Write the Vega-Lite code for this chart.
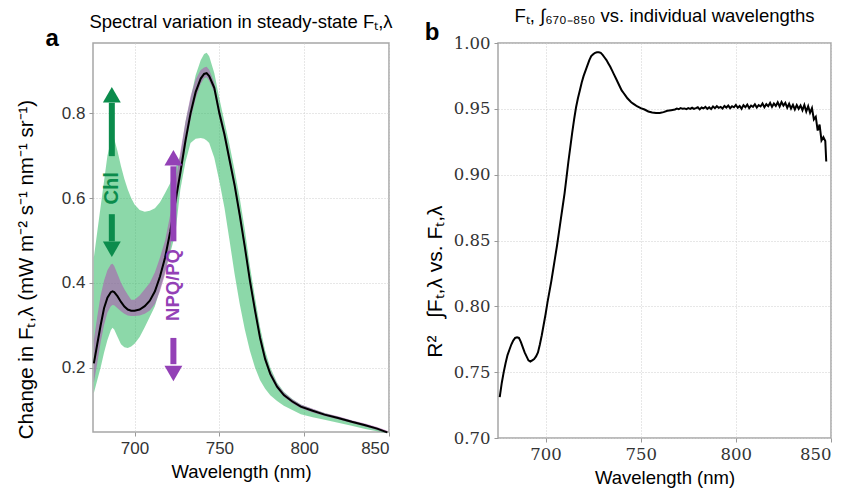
{
  "$schema": "https://vega.github.io/schema/vega-lite/v6.json",
  "background": "white",
  "padding": {"left": 15, "top": 6, "right": 5, "bottom": 5},
  "bounds": "flush",
  "spacing": 109,
  "config": {
    "view": {"stroke": "#a6a6a6", "strokeWidth": 1.5},
    "title": {"font": "Liberation Sans", "fontSize": 18.5, "fontWeight": "normal", "color": "#000", "offset": -4, "frame": "group"},
    "axis": {
      "grid": true, "gridColor": "#cfcfcf", "gridDash": [1, 2], "gridWidth": 1,
      "domain": false, "tickColor": "#999", "tickSize": 4, "tickWidth": 1,
      "labelColor": "#333", "titleColor": "#000", "titleFontWeight": "normal",
      "titleFont": "Liberation Sans", "labelFont": "Liberation Sans"
    }
  },
  "datasets": {
    "spec": [
      {"w": 676, "m": 0.21, "glo": 0.14, "ghi": 0.46, "plo": 0.165, "phi": 0.265},
      {"w": 678, "m": 0.255, "glo": 0.17, "ghi": 0.52, "plo": 0.21, "phi": 0.32},
      {"w": 680, "m": 0.30, "glo": 0.20, "ghi": 0.58, "plo": 0.26, "phi": 0.37},
      {"w": 682, "m": 0.34, "glo": 0.235, "ghi": 0.64, "plo": 0.30, "phi": 0.405},
      {"w": 684, "m": 0.365, "glo": 0.265, "ghi": 0.70, "plo": 0.33, "phi": 0.43},
      {"w": 686, "m": 0.378, "glo": 0.288, "ghi": 0.735, "plo": 0.345, "phi": 0.443},
      {"w": 687, "m": 0.38, "glo": 0.294, "ghi": 0.745, "plo": 0.348, "phi": 0.445},
      {"w": 688, "m": 0.378, "glo": 0.29, "ghi": 0.74, "plo": 0.347, "phi": 0.44},
      {"w": 690, "m": 0.368, "glo": 0.272, "ghi": 0.71, "plo": 0.34, "phi": 0.42},
      {"w": 692, "m": 0.355, "glo": 0.255, "ghi": 0.675, "plo": 0.333, "phi": 0.40},
      {"w": 694, "m": 0.344, "glo": 0.248, "ghi": 0.645, "plo": 0.327, "phi": 0.385},
      {"w": 696, "m": 0.337, "glo": 0.246, "ghi": 0.62, "plo": 0.323, "phi": 0.372},
      {"w": 698, "m": 0.334, "glo": 0.25, "ghi": 0.60, "plo": 0.322, "phi": 0.36},
      {"w": 700, "m": 0.334, "glo": 0.256, "ghi": 0.585, "plo": 0.322, "phi": 0.36},
      {"w": 703, "m": 0.337, "glo": 0.272, "ghi": 0.572, "plo": 0.323, "phi": 0.37},
      {"w": 706, "m": 0.345, "glo": 0.295, "ghi": 0.568, "plo": 0.327, "phi": 0.385},
      {"w": 709, "m": 0.358, "glo": 0.32, "ghi": 0.57, "plo": 0.335, "phi": 0.40},
      {"w": 712, "m": 0.38, "glo": 0.345, "ghi": 0.576, "plo": 0.35, "phi": 0.425},
      {"w": 715, "m": 0.415, "glo": 0.385, "ghi": 0.59, "plo": 0.38, "phi": 0.46},
      {"w": 718, "m": 0.46, "glo": 0.425, "ghi": 0.612, "plo": 0.42, "phi": 0.50},
      {"w": 721, "m": 0.52, "glo": 0.47, "ghi": 0.635, "plo": 0.48, "phi": 0.56},
      {"w": 724, "m": 0.59, "glo": 0.515, "ghi": 0.67, "plo": 0.57, "phi": 0.635},
      {"w": 727, "m": 0.66, "glo": 0.62, "ghi": 0.70, "plo": 0.645, "phi": 0.71},
      {"w": 730, "m": 0.735, "glo": 0.685, "ghi": 0.78, "plo": 0.72, "phi": 0.78},
      {"w": 733, "m": 0.80, "glo": 0.73, "ghi": 0.835, "plo": 0.785, "phi": 0.84},
      {"w": 736, "m": 0.85, "glo": 0.74, "ghi": 0.89, "plo": 0.835, "phi": 0.88},
      {"w": 739, "m": 0.882, "glo": 0.742, "ghi": 0.925, "plo": 0.87, "phi": 0.902},
      {"w": 741, "m": 0.893, "glo": 0.74, "ghi": 0.94, "plo": 0.883, "phi": 0.908},
      {"w": 742.5, "m": 0.895, "glo": 0.736, "ghi": 0.943, "plo": 0.885, "phi": 0.91},
      {"w": 744, "m": 0.888, "glo": 0.73, "ghi": 0.935, "plo": 0.877, "phi": 0.903},
      {"w": 747, "m": 0.86, "glo": 0.695, "ghi": 0.895, "plo": 0.85, "phi": 0.872},
      {"w": 750, "m": 0.80, "glo": 0.64, "ghi": 0.835, "plo": 0.79, "phi": 0.812},
      {"w": 753, "m": 0.75, "glo": 0.577, "ghi": 0.78, "plo": 0.74, "phi": 0.762},
      {"w": 756, "m": 0.69, "glo": 0.50, "ghi": 0.725, "plo": 0.68, "phi": 0.702},
      {"w": 759, "m": 0.63, "glo": 0.42, "ghi": 0.665, "plo": 0.62, "phi": 0.642},
      {"w": 762, "m": 0.56, "glo": 0.35, "ghi": 0.60, "plo": 0.55, "phi": 0.572},
      {"w": 765, "m": 0.485, "glo": 0.29, "ghi": 0.525, "plo": 0.475, "phi": 0.497},
      {"w": 768, "m": 0.405, "glo": 0.24, "ghi": 0.44, "plo": 0.395, "phi": 0.417},
      {"w": 771, "m": 0.335, "glo": 0.20, "ghi": 0.365, "plo": 0.326, "phi": 0.347},
      {"w": 774, "m": 0.27, "glo": 0.17, "ghi": 0.295, "plo": 0.262, "phi": 0.281},
      {"w": 777, "m": 0.22, "glo": 0.15, "ghi": 0.24, "plo": 0.213, "phi": 0.23},
      {"w": 780, "m": 0.185, "glo": 0.135, "ghi": 0.20, "plo": 0.179, "phi": 0.193},
      {"w": 784, "m": 0.155, "glo": 0.121, "ghi": 0.165, "plo": 0.15, "phi": 0.162},
      {"w": 788, "m": 0.135, "glo": 0.11, "ghi": 0.143, "plo": 0.131, "phi": 0.141},
      {"w": 793, "m": 0.12, "glo": 0.10, "ghi": 0.126, "plo": 0.116, "phi": 0.125},
      {"w": 798, "m": 0.108, "glo": 0.09, "ghi": 0.113, "plo": 0.104, "phi": 0.113},
      {"w": 805, "m": 0.098, "glo": 0.083, "ghi": 0.102, "plo": 0.094, "phi": 0.103},
      {"w": 812, "m": 0.089, "glo": 0.077, "ghi": 0.093, "plo": 0.086, "phi": 0.093},
      {"w": 820, "m": 0.081, "glo": 0.07, "ghi": 0.084, "plo": 0.078, "phi": 0.085},
      {"w": 828, "m": 0.072, "glo": 0.063, "ghi": 0.075, "plo": 0.069, "phi": 0.076},
      {"w": 836, "m": 0.064, "glo": 0.055, "ghi": 0.066, "plo": 0.061, "phi": 0.068},
      {"w": 843, "m": 0.056, "glo": 0.05, "ghi": 0.058, "plo": 0.053, "phi": 0.06},
      {"w": 849, "m": 0.047, "glo": 0.045, "ghi": 0.048, "plo": 0.045, "phi": 0.051}
    ],
    "r2": [
      {"w": 675.9, "r": 0.731}, {"w": 677, "r": 0.742}, {"w": 678, "r": 0.750}, {"w": 679, "r": 0.757},
      {"w": 680, "r": 0.763}, {"w": 681, "r": 0.767}, {"w": 682, "r": 0.771}, {"w": 683, "r": 0.774},
      {"w": 684, "r": 0.776}, {"w": 685, "r": 0.7765}, {"w": 686, "r": 0.776}, {"w": 687, "r": 0.773},
      {"w": 688, "r": 0.769}, {"w": 689, "r": 0.765}, {"w": 690, "r": 0.762}, {"w": 691, "r": 0.759},
      {"w": 692, "r": 0.758}, {"w": 693, "r": 0.759}, {"w": 694, "r": 0.760}, {"w": 695, "r": 0.762},
      {"w": 696, "r": 0.765}, {"w": 697, "r": 0.771}, {"w": 698, "r": 0.778}, {"w": 699, "r": 0.786},
      {"w": 700, "r": 0.794}, {"w": 701, "r": 0.803}, {"w": 702, "r": 0.811}, {"w": 703, "r": 0.819},
      {"w": 704, "r": 0.828}, {"w": 705, "r": 0.837}, {"w": 706, "r": 0.846}, {"w": 707, "r": 0.856},
      {"w": 708, "r": 0.866}, {"w": 709, "r": 0.876}, {"w": 710, "r": 0.886}, {"w": 711, "r": 0.898},
      {"w": 712, "r": 0.910}, {"w": 713, "r": 0.921}, {"w": 714, "r": 0.932}, {"w": 715, "r": 0.942},
      {"w": 716, "r": 0.951}, {"w": 717, "r": 0.958}, {"w": 718, "r": 0.964}, {"w": 719, "r": 0.970},
      {"w": 720, "r": 0.975}, {"w": 721, "r": 0.979}, {"w": 722, "r": 0.983}, {"w": 723, "r": 0.987},
      {"w": 724, "r": 0.990}, {"w": 725, "r": 0.9915}, {"w": 726, "r": 0.9925}, {"w": 727, "r": 0.993},
      {"w": 728, "r": 0.993}, {"w": 729, "r": 0.9925}, {"w": 730, "r": 0.991}, {"w": 731, "r": 0.989},
      {"w": 732, "r": 0.987}, {"w": 733, "r": 0.9845}, {"w": 734, "r": 0.982}, {"w": 735, "r": 0.979},
      {"w": 736, "r": 0.976}, {"w": 737, "r": 0.973}, {"w": 738, "r": 0.970}, {"w": 739, "r": 0.967},
      {"w": 740, "r": 0.964}, {"w": 741, "r": 0.962}, {"w": 742, "r": 0.960}, {"w": 743, "r": 0.958},
      {"w": 744, "r": 0.9565}, {"w": 745, "r": 0.955}, {"w": 746, "r": 0.954}, {"w": 747, "r": 0.953},
      {"w": 748, "r": 0.952}, {"w": 750, "r": 0.9505}, {"w": 752, "r": 0.9495}, {"w": 754, "r": 0.948},
      {"w": 756, "r": 0.9472}, {"w": 758, "r": 0.9468}, {"w": 760, "r": 0.9468}, {"w": 762, "r": 0.9475},
      {"w": 764, "r": 0.9485}, {"w": 766, "r": 0.949}, {"w": 768, "r": 0.9495}, {"w": 769, "r": 0.9502},
      {"w": 770, "r": 0.9498}, {"w": 771, "r": 0.9505}, {"w": 772, "r": 0.9500}, {"w": 773, "r": 0.9503},
      {"w": 774, "r": 0.9497}, {"w": 775, "r": 0.9505}, {"w": 776, "r": 0.9500}, {"w": 777, "r": 0.9508},
      {"w": 778, "r": 0.9499}, {"w": 779, "r": 0.9505}, {"w": 780, "r": 0.9512}, {"w": 781, "r": 0.9496},
      {"w": 782, "r": 0.9510}, {"w": 783, "r": 0.9503}, {"w": 784, "r": 0.9515}, {"w": 785, "r": 0.9500},
      {"w": 786, "r": 0.9512}, {"w": 787, "r": 0.9498}, {"w": 788, "r": 0.9518}, {"w": 789, "r": 0.9505},
      {"w": 790, "r": 0.9520}, {"w": 791, "r": 0.9508}, {"w": 792, "r": 0.9515}, {"w": 793, "r": 0.9502},
      {"w": 794, "r": 0.9522}, {"w": 795, "r": 0.9510}, {"w": 796, "r": 0.9525}, {"w": 797, "r": 0.9505},
      {"w": 798, "r": 0.9520}, {"w": 799, "r": 0.9512}, {"w": 800, "r": 0.9530}, {"w": 801, "r": 0.9508},
      {"w": 802, "r": 0.9522}, {"w": 803, "r": 0.9500}, {"w": 804, "r": 0.9528}, {"w": 805, "r": 0.9512},
      {"w": 806, "r": 0.9532}, {"w": 807, "r": 0.9505}, {"w": 808, "r": 0.9525}, {"w": 809, "r": 0.9515},
      {"w": 810, "r": 0.9535}, {"w": 811, "r": 0.9510}, {"w": 812, "r": 0.9528}, {"w": 813, "r": 0.9518},
      {"w": 814, "r": 0.9540}, {"w": 815, "r": 0.9512}, {"w": 816, "r": 0.9535}, {"w": 817, "r": 0.9520},
      {"w": 818, "r": 0.9545}, {"w": 819, "r": 0.9515}, {"w": 820, "r": 0.9540}, {"w": 821, "r": 0.9522},
      {"w": 822, "r": 0.9550}, {"w": 823, "r": 0.9518}, {"w": 824, "r": 0.9552}, {"w": 825, "r": 0.9525},
      {"w": 826, "r": 0.9545}, {"w": 827, "r": 0.9508}, {"w": 828, "r": 0.9538}, {"w": 829, "r": 0.9502},
      {"w": 830, "r": 0.9530}, {"w": 831, "r": 0.9495}, {"w": 832, "r": 0.9528}, {"w": 833, "r": 0.9500},
      {"w": 834, "r": 0.9525}, {"w": 835, "r": 0.9490}, {"w": 836, "r": 0.9530}, {"w": 837, "r": 0.9480},
      {"w": 838, "r": 0.9520}, {"w": 839, "r": 0.9470}, {"w": 840, "r": 0.9505}, {"w": 841, "r": 0.9420},
      {"w": 842, "r": 0.9440}, {"w": 843, "r": 0.9335}, {"w": 844, "r": 0.9380}, {"w": 845, "r": 0.9260},
      {"w": 846, "r": 0.9285}, {"w": 847, "r": 0.9255}, {"w": 847.5, "r": 0.9100}
    ]
  },
  "hconcat": [
    {
      "width": 296,
      "height": 389,
      "title": {"text": "Spectral variation in steady-state Fₜ,λ"},
      "layer": [
        {
          "data": {"name": "spec"},
          "mark": {"type": "area", "color": "#2db863", "opacity": 0.55},
          "encoding": {
            "x": {"field": "w", "type": "quantitative", "scale": {"domain": [675.5, 850], "nice": false, "zero": false},
              "axis": {"values": [700, 750, 800, 850], "title": "Wavelength (nm)", "labelFontSize": 17, "titleFontSize": 18.5, "labelPadding": 4, "titlePadding": 6}},
            "y": {"field": "glo", "type": "quantitative", "scale": {"domain": [0.048, 0.966], "nice": false, "zero": false},
              "axis": {"values": [0.2, 0.4, 0.6, 0.8], "format": ".1f", "title": "Change in Fₜ,λ (mW m⁻² s⁻¹ nm⁻¹ sr⁻¹)", "labelFontSize": 17, "titleFontSize": 20.5, "labelPadding": 4, "titlePadding": 25, "titleY": 226}},
            "y2": {"field": "ghi"}
          }
        },
        {
          "data": {"name": "spec"},
          "mark": {"type": "area", "color": "#b141b1", "opacity": 0.5},
          "encoding": {
            "x": {"field": "w", "type": "quantitative"},
            "y": {"field": "plo", "type": "quantitative"},
            "y2": {"field": "phi"}
          }
        },
        {
          "data": {"name": "spec"},
          "mark": {"type": "line", "color": "#000", "strokeWidth": 2},
          "encoding": {
            "x": {"field": "w", "type": "quantitative"},
            "y": {"field": "m", "type": "quantitative"}
          }
        },
        {
          "data": {"values": [{"w": 686.6, "a": 0.825, "b": 0.699}, {"w": 686.6, "a": 0.562, "b": 0.498}]},
          "mark": {"type": "rule", "color": "#0b8c4c", "strokeWidth": 6},
          "encoding": {
            "x": {"field": "w", "type": "quantitative"},
            "y": {"field": "a", "type": "quantitative"},
            "y2": {"field": "b"}
          }
        },
        {
          "data": {"values": [{"w": 686.6, "v": 0.844, "dir": "up"}, {"w": 686.6, "v": 0.479, "dir": "down"}]},
          "mark": {"type": "point", "filled": true, "color": "#0b8c4c", "opacity": 1, "size": 320},
          "encoding": {
            "x": {"field": "w", "type": "quantitative"},
            "y": {"field": "v", "type": "quantitative"},
            "shape": {"field": "dir", "type": "nominal", "scale": {"domain": ["up", "down"], "range": ["triangle-up", "triangle-down"]}, "legend": null}
          }
        },
        {
          "data": {"values": [{"w": 722.9, "a": 0.675, "b": 0.498}, {"w": 722.9, "a": 0.270, "b": 0.208}]},
          "mark": {"type": "rule", "color": "#9341b6", "strokeWidth": 6},
          "encoding": {
            "x": {"field": "w", "type": "quantitative"},
            "y": {"field": "a", "type": "quantitative"},
            "y2": {"field": "b"}
          }
        },
        {
          "data": {"values": [{"w": 722.9, "v": 0.695, "dir": "up"}, {"w": 722.9, "v": 0.186, "dir": "down"}]},
          "mark": {"type": "point", "filled": true, "color": "#9341b6", "opacity": 1, "size": 320},
          "encoding": {
            "x": {"field": "w", "type": "quantitative"},
            "y": {"field": "v", "type": "quantitative"},
            "shape": {"field": "dir", "type": "nominal", "scale": {"domain": ["up", "down"], "range": ["triangle-up", "triangle-down"]}, "legend": null}
          }
        },
        {
          "data": {"values": [{"w": 686.6, "v": 0.623, "t": "Chl"}]},
          "mark": {"type": "text", "color": "#0b8c4c", "font": "Liberation Sans", "fontWeight": "bold", "fontSize": 20, "angle": 270, "align": "center", "baseline": "middle"},
          "encoding": {
            "x": {"field": "w", "type": "quantitative"},
            "y": {"field": "v", "type": "quantitative"},
            "text": {"field": "t"}
          }
        },
        {
          "data": {"values": [{"w": 722.9, "v": 0.395, "t": "NPQ/PQ"}]},
          "mark": {"type": "text", "color": "#9341b6", "font": "Liberation Sans", "fontWeight": "bold", "fontSize": 18.5, "angle": 270, "align": "center", "baseline": "middle"},
          "encoding": {
            "x": {"field": "w", "type": "quantitative"},
            "y": {"field": "v", "type": "quantitative"},
            "text": {"field": "t"}
          }
        },
        {
          "data": {"values": [{"w": 651.5, "v": 0.958, "t": "a"}]},
          "mark": {"type": "text", "color": "#000", "font": "Liberation Sans", "fontWeight": "bold", "fontSize": 24, "align": "center", "baseline": "alphabetic"},
          "encoding": {
            "x": {"field": "w", "type": "quantitative"},
            "y": {"field": "v", "type": "quantitative"},
            "text": {"field": "t"}
          }
        }
      ]
    },
    {
      "width": 333,
      "height": 395,
      "title": {"text": "Fₜ, ∫₆₇₀₋₈₅₀ vs. individual wavelengths"},
      "layer": [
        {
          "data": {"name": "r2"},
          "mark": {"type": "line", "color": "#000", "strokeWidth": 2},
          "encoding": {
            "x": {"field": "w", "type": "quantitative", "scale": {"domain": [675, 850], "nice": false, "zero": false},
              "axis": {"values": [700, 750, 800, 850], "title": "Wavelength (nm)", "labelFont": "DejaVu Serif", "labelFontSize": 16.5, "titleFontSize": 18.5, "labelPadding": 4, "titlePadding": 6}},
            "y": {"field": "r", "type": "quantitative", "scale": {"domain": [0.7, 1.0], "nice": false, "zero": false},
              "axis": {"values": [0.7, 0.75, 0.8, 0.85, 0.9, 0.95, 1.0], "format": ".2f", "title": "R² \u00a0\u00a0∫Fₜ,λ vs. Fₜ,λ", "labelFont": "DejaVu Serif", "labelFontSize": 16.5, "titleFontSize": 21, "labelPadding": 4, "titlePadding": 8, "titleY": 238}}
          }
        },
        {
          "data": {"values": [{"w": 640.3, "v": 1.0019, "t": "b"}]},
          "mark": {"type": "text", "color": "#000", "font": "Liberation Sans", "fontWeight": "bold", "fontSize": 24, "align": "center", "baseline": "alphabetic"},
          "encoding": {
            "x": {"field": "w", "type": "quantitative"},
            "y": {"field": "v", "type": "quantitative"},
            "text": {"field": "t"}
          }
        }
      ]
    }
  ]
}
